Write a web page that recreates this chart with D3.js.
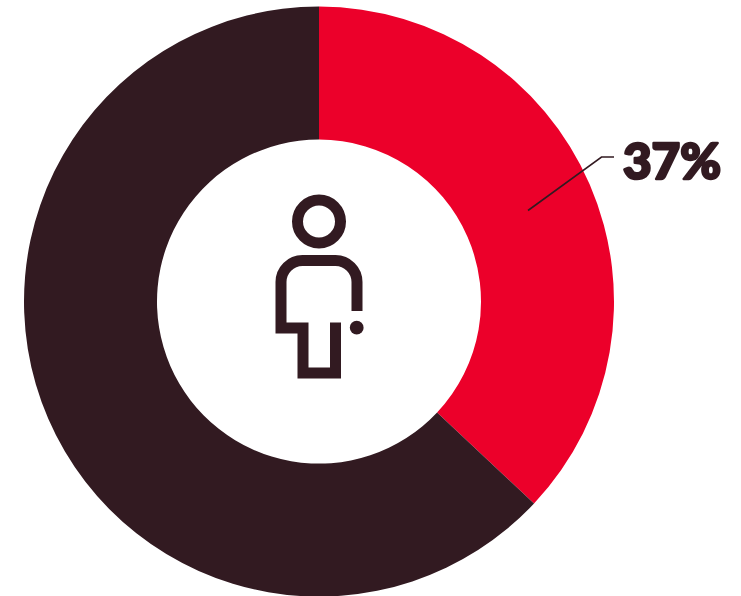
<!DOCTYPE html>
<html>
<head>
<meta charset="utf-8">
<script src="https://cdn.jsdelivr.net/npm/d3@7"></script>
<style>
  html, body { margin: 0; padding: 0; background: #fff; }
  svg { display: block; }
</style>
</head>
<body>
<svg id="chart" width="741" height="596"></svg>
<script>
const categories = ["Share", "Rest"];
const values = [37, 63];
const sliceColors = ["#ec002a", "#321a21"];
const labels = ["37%"];

const dark = "#321a21";
const svg = d3.select("#chart");

const cx = 319, cy = 301.6;
const outerR = 295, innerR = 162;

const pie = d3.pie().sort(null).value(d => d.value);
const arc = d3.arc().innerRadius(innerR).outerRadius(outerR);

const g = svg.append("g").attr("transform", `translate(${cx},${cy})`);

g.selectAll("path")
  .data(pie(categories.map((c, i) => ({ name: c, value: values[i] }))))
  .enter()
  .append("path")
  .attr("d", arc)
  .attr("fill", (d, i) => sliceColors[i]);

// leader line for the red slice
svg.append("path")
  .attr("d", "M528,210.5L601.5,157H614")
  .attr("fill", "none")
  .attr("stroke", dark)
  .attr("stroke-width", 1.6);

svg.append("text")
  .attr("x", 623)
  .attr("y", 179)
  .attr("font-family", "Lato")
  .attr("font-weight", 900)
  .attr("font-size", 49)
  .attr("fill", dark)
  .attr("stroke", dark)
  .attr("stroke-width", 2.6)
  .attr("stroke-linejoin", "round")
  .attr("textLength", 98)
  .attr("lengthAdjust", "spacingAndGlyphs")
  .text(labels[0]);

// person icon in the hole
const icon = svg.append("g");

icon.append("circle")
  .attr("cx", 319)
  .attr("cy", 221.5)
  .attr("r", 21.5)
  .attr("fill", "none")
  .attr("stroke", dark)
  .attr("stroke-width", 11);

icon.append("path")
  .attr("d", "M357,311V282A21.5,21.5 0 0 0 335.5,260.5H302.5A21.5,21.5 0 0 0 281,282V328H303V373H335.5V322.5")
  .attr("fill", "none")
  .attr("stroke", dark)
  .attr("stroke-width", 11);

icon.append("circle")
  .attr("cx", 356.7)
  .attr("cy", 327.7)
  .attr("r", 6.9)
  .attr("fill", dark);
</script>
</body>
</html>
